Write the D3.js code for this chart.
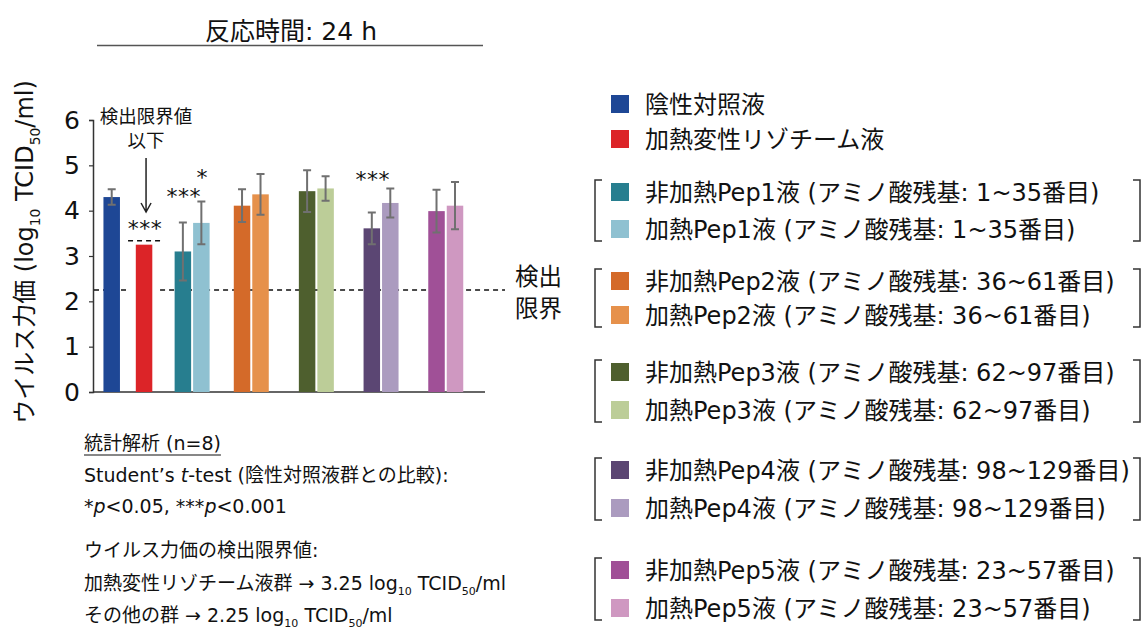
<!DOCTYPE html>
<html>
<head>
<meta charset="utf-8">
<script src="https://cdn.jsdelivr.net/npm/d3@7"></script>
<style>
  body { margin: 0; background: #fff; }
  svg { display: block; font-family: 'DejaVu Sans', 'Noto Sans CJK JP', sans-serif; }
</style>
</head>
<body>
<svg id="chart" width="1147" height="633"></svg>
<script>
// ---- data ----
const categories = [
  "陰性対照液", "加熱変性リゾチーム液",
  "非加熱Pep1液", "加熱Pep1液",
  "非加熱Pep2液", "加熱Pep2液",
  "非加熱Pep3液", "加熱Pep3液",
  "非加熱Pep4液", "加熱Pep4液",
  "非加熱Pep5液", "加熱Pep5液"
];
const residueRanges = ["", "", "1~35", "1~35", "36~61", "36~61", "62~97", "62~97", "98~129", "98~129", "23~57", "23~57"];
const means  = [4.30, 3.25, 3.10, 3.73, 4.11, 4.36, 4.43, 4.49, 3.61, 4.17, 3.99, 4.11];
const errors = [0.17, 0.00, 0.64, 0.47, 0.36, 0.45, 0.46, 0.27, 0.35, 0.32, 0.47, 0.52];
const significance = ["", "***", "***", "*", "", "", "", "", "***", "", "", ""];
const yTickValues = [0, 1, 2, 3, 4, 5, 6];
const detectionLimit = 2.25;   // all other groups
const lysozymeLimit = 3.25;    // heat-denatured lysozyme group

// ---- styles / layout ----
const palette = ["#1e4795", "#dc2428", "#277e8f", "#8fc1d1", "#d46a29", "#e6914b",
                 "#4e5f2e", "#bccd98", "#5b4673", "#ab9bbf", "#a05097", "#cf98c1"];
const slot = [0, 1.75, 3.85, 4.85, 7.05, 8.05, 10.57, 11.57, 14.07, 15.07, 17.57, 18.57];
const barW = 16.5;
const starLift = [0, 21, 30, 29, 0, 0, 0, 0, 37, 0, 0, 0];

const svg = d3.select("#chart");
const x = d3.scaleLinear().domain([0, 18.57]).range([111.7, 455]);
const y = d3.scaleLinear().domain([0, 6]).range([392, 120]);
const axisX = 93;

// title
svg.append("text").attr("x", 291).attr("y", 31).attr("dy", "0.35em")
  .attr("text-anchor", "middle").attr("font-size", 25).attr("fill", "#111")
  .text("反応時間: 24 h");
svg.append("line").attr("x1", 97).attr("x2", 483).attr("y1", 45.5).attr("y2", 45.5)
  .attr("stroke", "#555").attr("stroke-width", 1.5);

// y axis
const yAxis = svg.append("g").attr("transform", `translate(${axisX},0)`)
  .call(d3.axisLeft(y).tickValues(yTickValues).tickFormat(d3.format("d")).tickSizeOuter(0).tickSize(4).tickPadding(9));
yAxis.select(".domain").attr("stroke", "#333").attr("stroke-width", 1.5);
yAxis.selectAll(".tick line").attr("stroke", "#333").attr("stroke-width", 1.2);
yAxis.selectAll(".tick text").attr("font-size", 25).attr("fill", "#111")
  .attr("font-family", "'DejaVu Sans', sans-serif");

// x baseline
svg.append("line").attr("x1", axisX).attr("x2", 485).attr("y1", y(0)).attr("y2", y(0))
  .attr("stroke", "#333").attr("stroke-width", 1.5);

// helper: text with subscripts
function richText(sel, parts, size) {
  parts.forEach(p => {
    const t = sel.append("tspan").text(p.t);
    if (p.sub) t.attr("font-size", size * 0.58).attr("dy", size * 0.28);
    else if (p.after) t.attr("dy", -size * 0.28);
    if (p.it) t.attr("font-style", "italic");
  });
}

// y label
const yl = svg.append("text")
  .attr("transform", "translate(25,252) rotate(-90)")
  .attr("text-anchor", "middle").attr("dy", "0.35em")
  .attr("font-size", 24).attr("fill", "#111");
richText(yl, [{t: "ウイルス力価 (log"}, {t: "10", sub: true}, {t: " TCID", after: true},
              {t: "50", sub: true}, {t: "/ml)", after: true}], 24);

// detection limit dashed line (interrupted over the lysozyme bar)
const gapL = x(slot[1]) - 16, gapR = x(slot[1]) + 16;
[[axisX + 1, gapL], [gapR, 505]].forEach(([a, b]) => {
  svg.append("line").attr("x1", a).attr("x2", b)
    .attr("y1", y(detectionLimit)).attr("y2", y(detectionLimit))
    .attr("stroke", "#111").attr("stroke-width", 1.5).attr("stroke-dasharray", "5,4");
});

// bars
const idx = d3.range(categories.length);
svg.append("g").selectAll("rect").data(idx).join("rect")
  .attr("x", i => x(slot[i]) - barW / 2)
  .attr("width", barW)
  .attr("y", i => y(means[i]))
  .attr("height", i => y(0) - y(means[i]))
  .attr("fill", i => palette[i]);

// error bars
const eb = svg.append("g").attr("stroke", "#707070").attr("stroke-width", 2).attr("fill", "none");
idx.filter(i => errors[i] > 0).forEach(i => {
  const cx = x(slot[i]);
  const top = y(means[i] + errors[i]), bot = y(means[i] - errors[i]);
  eb.append("path").attr("d",
    `M${cx},${top}V${bot}M${cx - 4},${top}H${cx + 4}M${cx - 4},${bot}H${cx + 4}`);
});

// lysozyme limit marker (dashed line above red bar)
svg.append("line")
  .attr("x1", x(slot[1]) - 16).attr("x2", x(slot[1]) + 18)
  .attr("y1", y(lysozymeLimit) - 4).attr("y2", y(lysozymeLimit) - 4)
  .attr("stroke", "#111").attr("stroke-width", 1.5).attr("stroke-dasharray", "5,4");

// significance marks
idx.filter(i => significance[i]).forEach(i => {
  const top = y(means[i] + errors[i]);
  svg.append("text").attr("x", x(slot[i]) + 1).attr("y", top - starLift[i] + 12)
    .attr("text-anchor", "middle").attr("font-size", 22).attr("letter-spacing", 0.5)
    .attr("fill", "#111").text(significance[i]);
});

// "below detection limit" annotation
svg.append("text").attr("x", 146).attr("y", 117).attr("dy", "0.35em")
  .attr("text-anchor", "middle").attr("font-size", 18.5).attr("fill", "#111").text("検出限界値");
svg.append("text").attr("x", 146).attr("y", 141).attr("dy", "0.35em")
  .attr("text-anchor", "middle").attr("font-size", 18.5).attr("fill", "#111").text("以下");
const ax = x(slot[1]) + 2;
svg.append("path")
  .attr("d", `M${ax},158V212M${ax - 5},203L${ax},212L${ax + 5},203`)
  .attr("stroke", "#222").attr("stroke-width", 1.5).attr("fill", "none");

// detection limit label
svg.append("text").attr("x", 515).attr("y", 277).attr("dy", "0.35em")
  .attr("font-size", 23.5).attr("fill", "#111").text("検出");
svg.append("text").attr("x", 515).attr("y", 309).attr("dy", "0.35em")
  .attr("font-size", 23.5).attr("fill", "#111").text("限界");

// legend
const legendY = [104, 139, 192, 229, 281, 315, 372, 410, 470, 508, 570, 608];
const legend = svg.append("g");
idx.forEach(i => {
  legend.append("rect").attr("x", 611).attr("y", legendY[i] - 9).attr("width", 18).attr("height", 18)
    .attr("fill", palette[i]);
  const label = residueRanges[i]
    ? `${categories[i]} (アミノ酸残基: ${residueRanges[i]}番目)`
    : categories[i];
  legend.append("text").attr("x", 645).attr("y", legendY[i]).attr("dy", "0.36em")
    .attr("font-size", 24).attr("fill", "#111").text(label);
});
// brackets around each peptide pair
for (let i = 2; i < categories.length; i += 2) {
  const t = legendY[i] - 12, b = legendY[i + 1] + 12;
  legend.append("path").attr("d", `M602,${t}H595V${b}H602M1133,${t}H1140V${b}H1133`)
    .attr("stroke", "#333").attr("stroke-width", 1.5).attr("fill", "none");
}

// notes below the chart
const notes = svg.append("g").attr("font-size", 19).attr("fill", "#111");
const noteX = 84;
const n1 = notes.append("text").attr("x", noteX).attr("y", 450).text("統計解析 (n=8)");
const n1w = n1.node().getComputedTextLength();
notes.append("line").attr("x1", noteX).attr("x2", noteX + n1w).attr("y1", 455).attr("y2", 455)
  .attr("stroke", "#111").attr("stroke-width", 1.2);
richText(notes.append("text").attr("x", noteX).attr("y", 482),
  [{t: "Student’s "}, {t: "t", it: true}, {t: "-test (陰性対照液群との比較):"}], 19);
richText(notes.append("text").attr("x", noteX).attr("y", 513),
  [{t: "*"}, {t: "p", it: true}, {t: "<0.05, ***"}, {t: "p", it: true}, {t: "<0.001"}], 19);
notes.append("text").attr("x", noteX).attr("y", 557).text("ウイルス力価の検出限界値:");
richText(notes.append("text").attr("x", noteX).attr("y", 590),
  [{t: `加熱変性リゾチーム液群 → ${lysozymeLimit} log`}, {t: "10", sub: true}, {t: " TCID", after: true},
   {t: "50", sub: true}, {t: "/ml", after: true}], 19);
richText(notes.append("text").attr("x", noteX).attr("y", 622),
  [{t: `その他の群 → ${detectionLimit} log`}, {t: "10", sub: true}, {t: " TCID", after: true},
   {t: "50", sub: true}, {t: "/ml", after: true}], 19);
</script>
</body>
</html>
